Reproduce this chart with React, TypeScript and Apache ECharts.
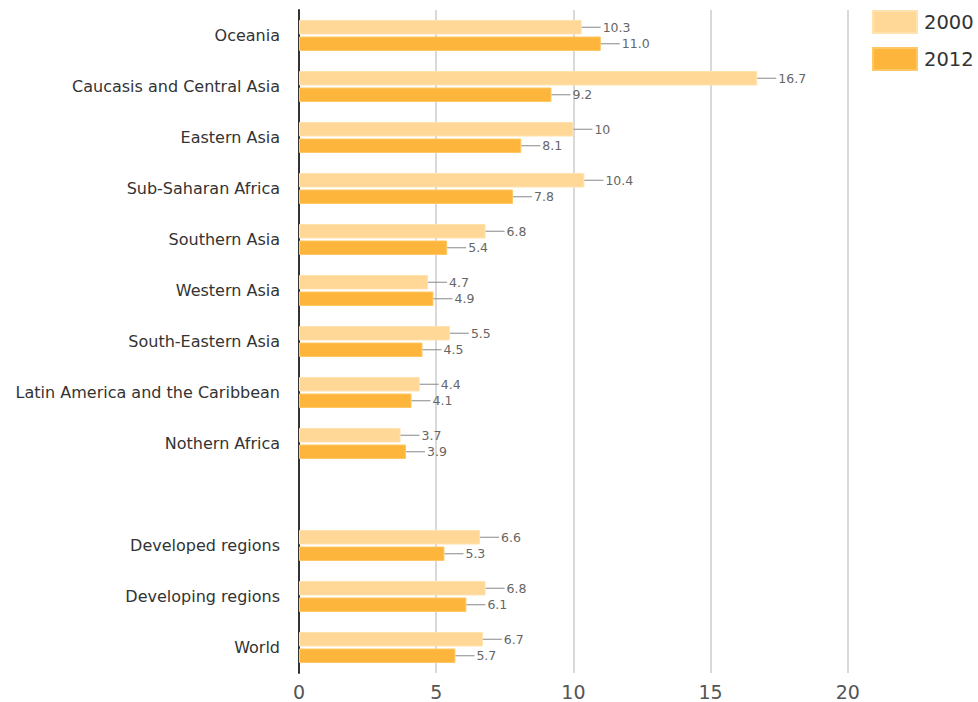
import React, { useEffect, useRef } from "react";
import * as echarts from "echarts";

const categories = [
  "Oceania",
  "Caucasis and Central Asia",
  "Eastern Asia",
  "Sub-Saharan Africa",
  "Southern Asia",
  "Western Asia",
  "South-Eastern Asia",
  "Latin America and the Caribbean",
  "Nothern Africa",
  "",
  "Developed regions",
  "Developing regions",
  "World",
];
const values2000: (number | null)[] = [10.3, 16.7, 10, 10.4, 6.8, 4.7, 5.5, 4.4, 3.7, null, 6.6, 6.8, 6.7];
const values2012: (number | null)[] = [11.0, 9.2, 8.1, 7.8, 5.4, 4.9, 4.5, 4.1, 3.9, null, 5.3, 6.1, 5.7];
const seriesNames = ["2000", "2012"];
const xTicks = [0, 5, 10, 15, 20];

const FONT = "DejaVu Sans, Verdana, sans-serif";

const richLabel = (fmt: (v: number) => string) => ({
  show: true,
  position: "right" as const,
  distance: 0,
  formatter: (p: any) => `{ln|}{v|${fmt(p.value)}}`,
  rich: {
    ln: { width: 19, height: 1, backgroundColor: "#888888" },
    v: { fontSize: 12.5, color: "#666666", padding: [0, 0, 0, 2], fontFamily: FONT },
  },
});

export default function App() {
  const ref = useRef<HTMLDivElement>(null);
  useEffect(() => {
    if (!ref.current) return;
    const chart = echarts.init(ref.current, undefined, { renderer: "svg" });
    chart.setOption({
      animation: false,
      textStyle: { fontFamily: FONT },
      legend: {
        orient: "vertical",
        left: 867,
        top: 5,
        itemWidth: 44,
        itemHeight: 22,
        itemGap: 13,
        icon: "rect",
        textStyle: { fontSize: 19.5, color: "#333333", fontFamily: FONT, padding: [0, 0, 0, 2] },
        data: seriesNames,
      },
      grid: {
        left: 299,
        width: 686,
        top: 10,
        bottom: 29,
        containLabel: false,
        outerBoundsMode: "none",
      },
      xAxis: {
        type: "value",
        min: 0,
        max: 25,
        interval: 5,
        axisLine: { show: false },
        axisTick: { show: false },
        axisLabel: {
          fontSize: 19,
          color: "#555555",
          margin: 9,
          fontFamily: FONT,
          formatter: (v: number) => (xTicks.includes(v) ? String(v) : ""),
        },
        splitLine: { lineStyle: { color: "#cccccc", width: 1.5 } },
      },
      yAxis: {
        type: "category",
        inverse: true,
        data: categories,
        axisLine: { show: true, lineStyle: { color: "#333333", width: 2 } },
        axisTick: { show: false },
        axisLabel: { fontSize: 16, color: "#333333", margin: 19, fontFamily: FONT },
        splitLine: { show: false },
      },
      series: [
        {
          name: seriesNames[0],
          type: "bar",
          data: values2000,
          barWidth: 14.5,
          barGap: "14%",
          itemStyle: { color: "#FFD796", borderColor: "#FFE2AE", borderWidth: 1 },
          label: richLabel((v) => String(v)),
        },
        {
          name: seriesNames[1],
          type: "bar",
          data: values2012,
          barWidth: 14.5,
          barGap: "14%",
          itemStyle: { color: "#FDB53B", borderColor: "#FFC865", borderWidth: 1 },
          label: richLabel((v) => v.toFixed(1)),
        },
      ],
    });
    return () => chart.dispose();
  }, []);
  return (
    <div
      ref={ref}
      style={{ position: "fixed", left: 0, top: 0, width: 978, height: 702, background: "#fff" }}
    />
  );
}
